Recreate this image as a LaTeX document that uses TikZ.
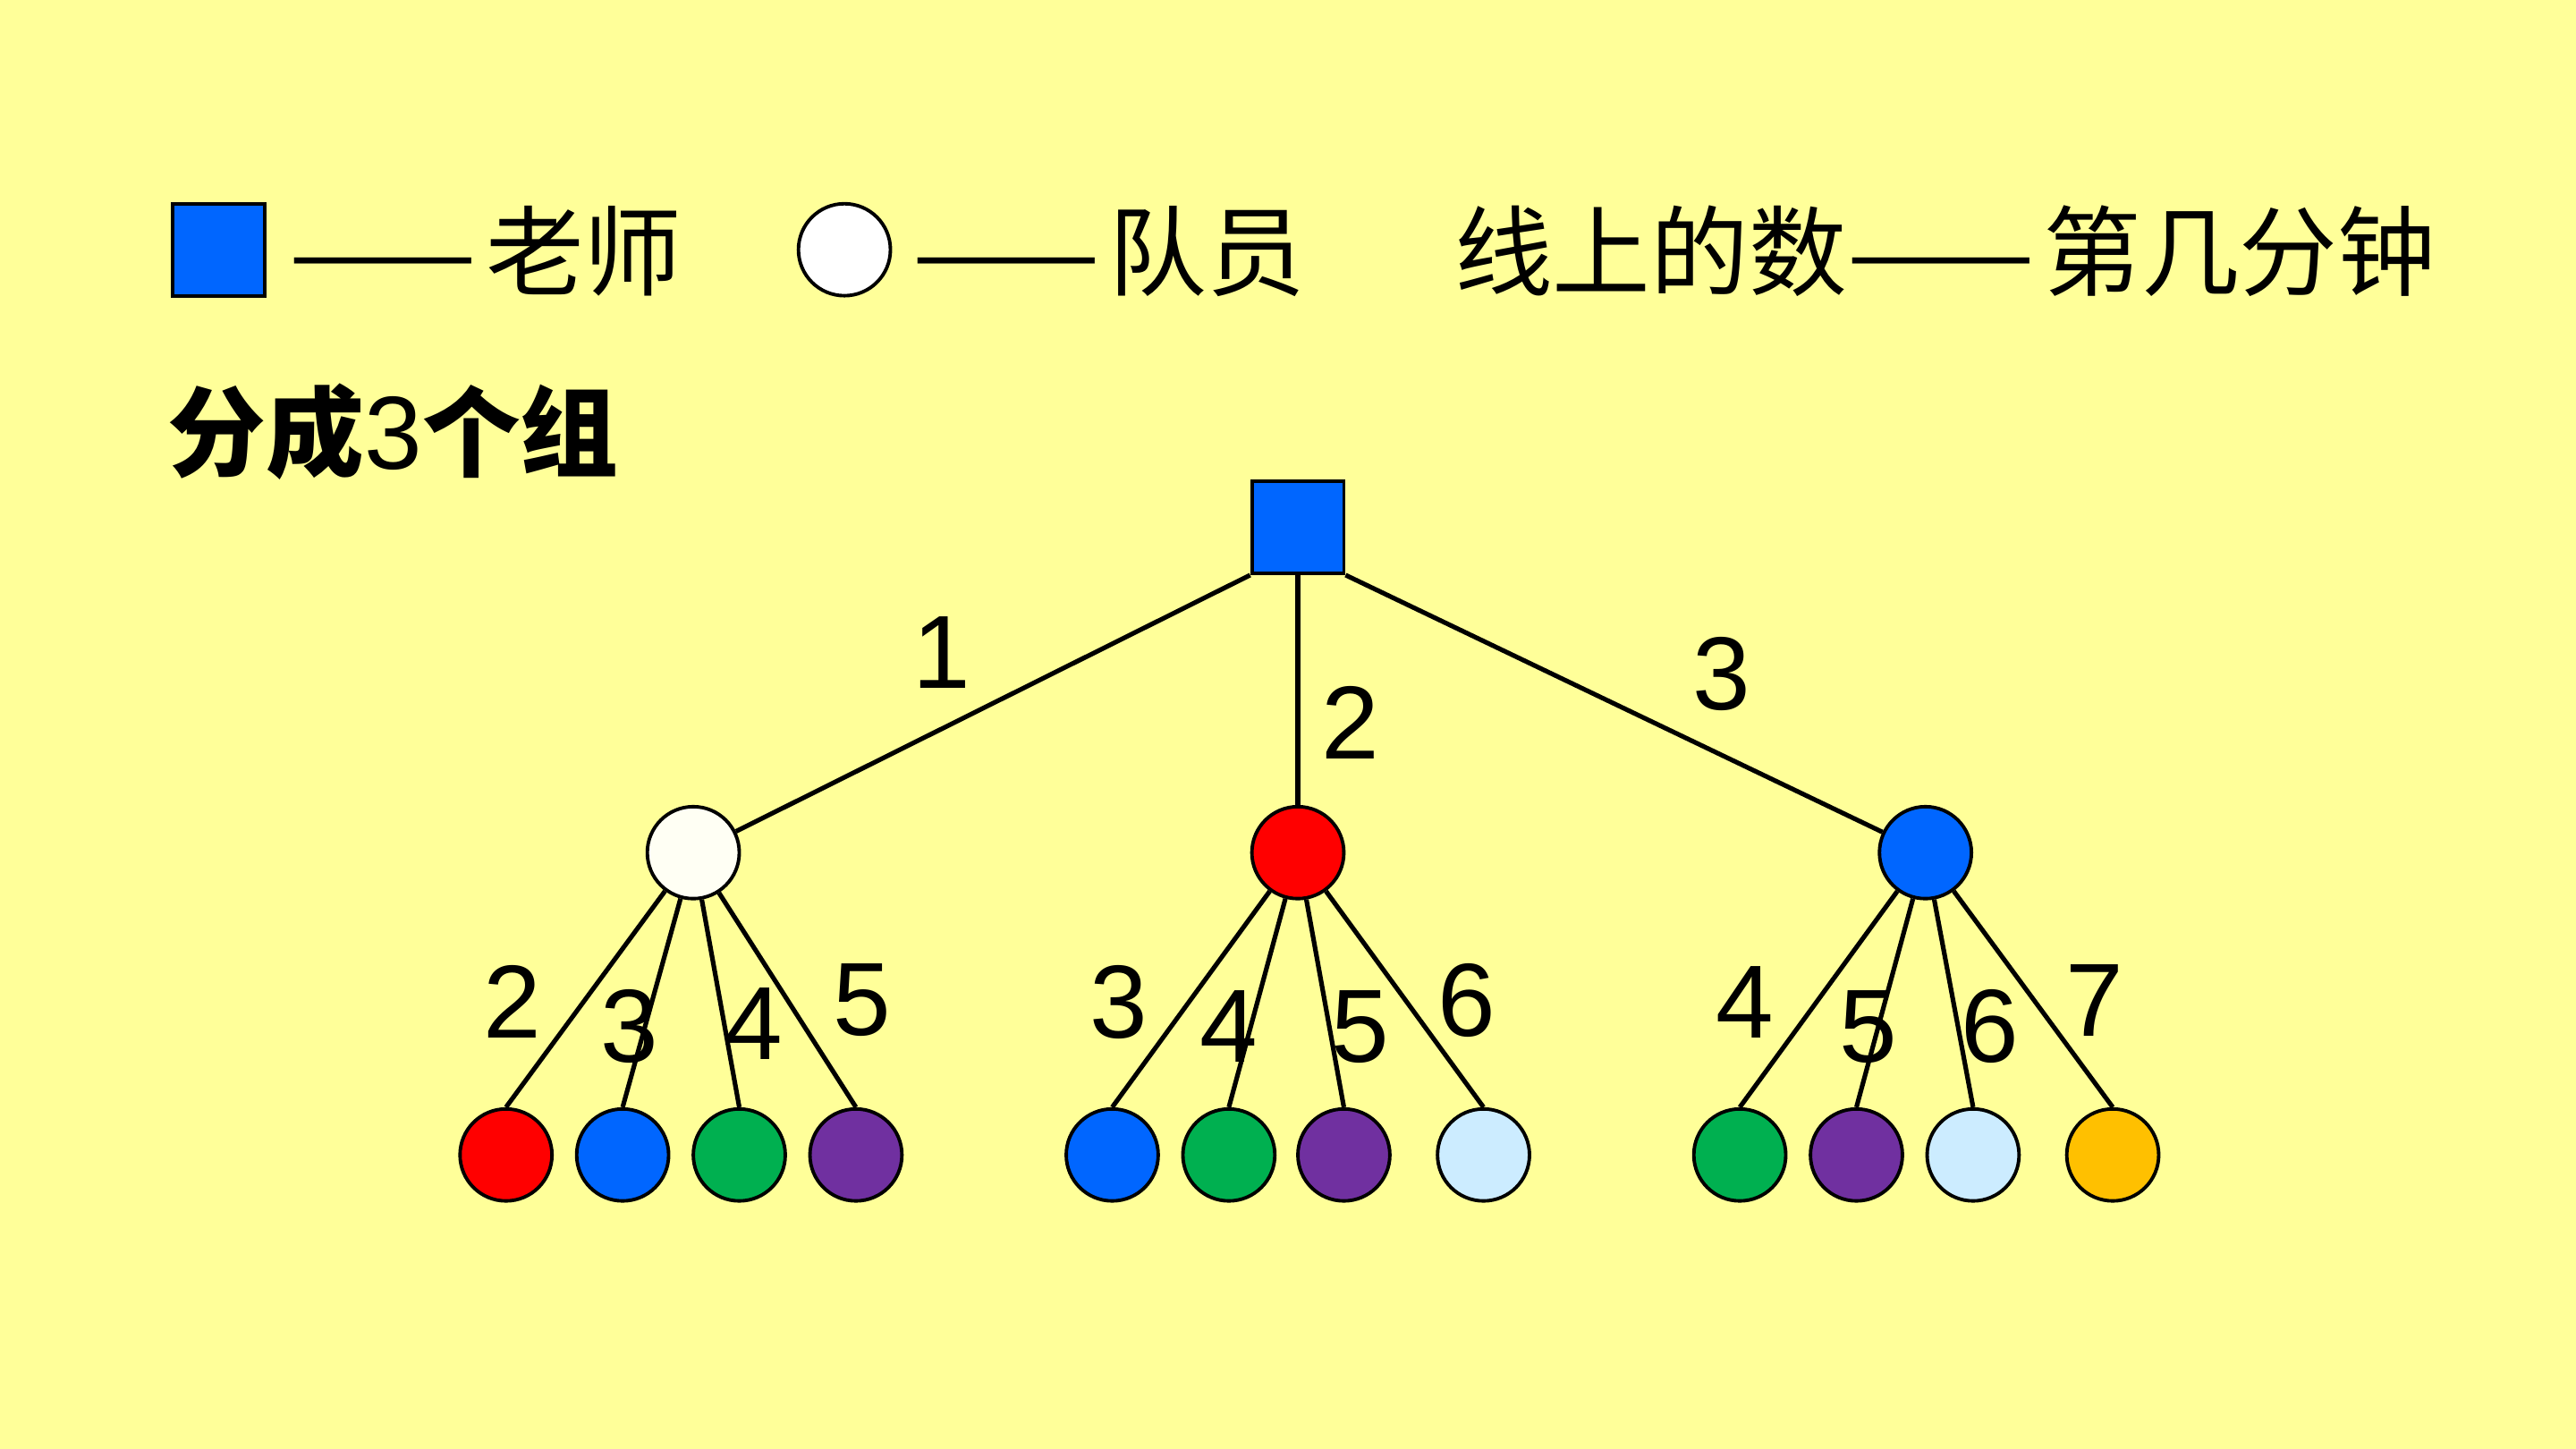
\documentclass[tikz,border=0pt]{standalone}
\usepackage{fontspec}
\setmainfont{Liberation Sans}
\newfontfamily\cjk{Noto Sans CJK SC}
\usetikzlibrary{positioning}
\definecolor{bgyellow}{HTML}{FFFF99}
\definecolor{mblue}{HTML}{0066FF}
\definecolor{mred}{HTML}{FF0000}
\definecolor{mgreen}{HTML}{00B050}
\definecolor{mpurple}{HTML}{7030A0}
\definecolor{mlight}{HTML}{CCECFF}
\definecolor{morange}{HTML}{FFC000}
\definecolor{mwhite}{HTML}{FFFFF4}
\newcommand{\longdash}{\scalebox{1.14}[1]{——}\kern3pt}
\tikzset{teacher/.style = {draw, line width=1.2pt, fill=mblue, minimum size=1.12cm, inner sep=0}}
\tikzset{member/.style = {draw, circle, line width=1.2pt, minimum size=1.12cm, inner sep=0}}
\tikzset{legtext/.style = {anchor=west, inner sep=0, font=\cjk\fontsize{34}{34}\selectfont}}
\tikzset{num/.style = {inner sep=0, font=\fontsize{36}{36}\selectfont}}
\tikzset{edge/.style = {line width=1.6pt}}

\begin{document}
\begin{tikzpicture}[x=0.02cm, y=-0.02cm]
      \fill [bgyellow] (0, 0) rectangle (1568, 882);
      \useasboundingbox (0, 0) rectangle (1568, 882);

      % legend
      \node [teacher] (legT) at (133, 152) {};
      \node [legtext] (legTtext) at (176, 153) {\longdash 老师};
      \node [member, fill=white] (legM) at (514, 152) {};
      \node [legtext] (legMtext) at (555, 153) {\longdash 队员};
      \node [legtext] (legNum) at (885, 153) {线上的数\longdash 第几分钟};
      \node [legtext, font=\cjk\bfseries\fontsize{34}{34}\selectfont] (title) at (102, 263) {分成{\normalfont\fontsize{36}{36}\selectfont 3}个组};

      % teacher and group leaders
      \node [teacher] (T) at (790, 321) {};
      \node [member, fill=mwhite] (W) at (422, 519) {};
      \node [member, fill=mred] (R) at (790, 519) {};
      \node [member, fill=mblue] (B) at (1172, 519) {};

      % members
      \node [member, fill=mred] (w1) at (308, 703) {};
      \node [member, fill=mblue] (w2) at (379, 703) {};
      \node [member, fill=mgreen] (w3) at (450, 703) {};
      \node [member, fill=mpurple] (w4) at (521, 703) {};
      \node [member, fill=mblue] (r1) at (677, 703) {};
      \node [member, fill=mgreen] (r2) at (748, 703) {};
      \node [member, fill=mpurple] (r3) at (818, 703) {};
      \node [member, fill=mlight] (r4) at (903, 703) {};
      \node [member, fill=mgreen] (b1) at (1059, 703) {};
      \node [member, fill=mpurple] (b2) at (1130, 703) {};
      \node [member, fill=mlight] (b3) at (1201, 703) {};
      \node [member, fill=morange] (b4) at (1286, 703) {};

      \draw [edge] (T.south west) -- (W);
      \draw [edge] (T.south) -- (R);
      \draw [edge] (T.south east) -- (B);
      \draw [edge] (W) -- (w1.north);
      \draw [edge] (W) -- (w2.north);
      \draw [edge] (W) -- (w3.north);
      \draw [edge] (W) -- (w4.north);
      \draw [edge] (R) -- (r1.north);
      \draw [edge] (R) -- (r2.north);
      \draw [edge] (R) -- (r3.north);
      \draw [edge] (R) -- (r4.north);
      \draw [edge] (B) -- (b1.north);
      \draw [edge] (B) -- (b2.north);
      \draw [edge] (B) -- (b3.north);
      \draw [edge] (B) -- (b4.north);

      % minutes on the lines
      \node [num] (n1) at (573, 397) {1};
      \node [num] (n2) at (822, 440) {2};
      \node [num] (n3) at (1048, 410) {3};
      \node [num] (w1n) at (312, 610) {2};
      \node [num] (w2n) at (383, 625) {3};
      \node [num] (w3n) at (459, 623) {4};
      \node [num] (w4n) at (525, 609) {5};
      \node [num] (r1n) at (681, 610) {3};
      \node [num] (r2n) at (748, 625) {4};
      \node [num] (r3n) at (828, 625) {5};
      \node [num] (r4n) at (893, 609) {6};
      \node [num] (b1n) at (1062, 610) {4};
      \node [num] (b2n) at (1137, 625) {5};
      \node [num] (b3n) at (1211, 625) {6};
      \node [num] (b4n) at (1275, 609) {7};
    \end{tikzpicture}
\end{document}
